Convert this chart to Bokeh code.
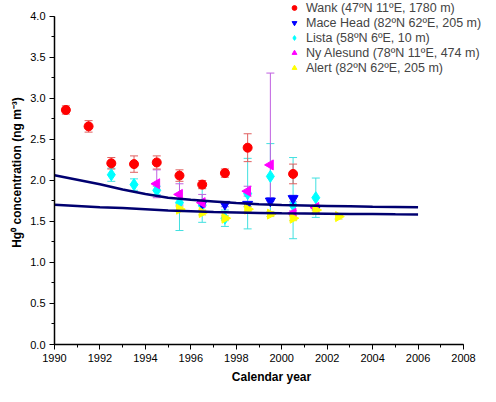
from bokeh.plotting import figure
from bokeh.models import (ColumnDataSource, Whisker, TeeHead, Legend, LegendItem,
                          SingleIntervalTicker, NumeralTickFormatter, Range1d)
from bokeh.embed import file_html
from bokeh.resources import INLINE

# ---------------- data ----------------
wank_year = [1990.5, 1991.5, 1992.5, 1993.5, 1994.5, 1995.5, 1996.5, 1997.5, 1998.5, 2000.5]
wank_val = [2.86, 2.66, 2.21, 2.20, 2.22, 2.06, 1.95, 2.09, 2.40, 2.08]
wank_elo = [0.05, 0.07, 0.07, 0.10, 0.08, 0.07, 0.05, 0.05, 0.17, 0.12]
wank_ehi = [0.05, 0.07, 0.07, 0.10, 0.08, 0.07, 0.05, 0.05, 0.17, 0.12]

mace_year = [1996.5, 1997.5, 1998.5, 1999.5, 2000.5, 2001.5]
mace_val = [1.72, 1.71, 1.71, 1.75, 1.78, 1.66]
mace_elo = [0.03, 0.03, 0.03, 0.04, 0.04, 0.02]
mace_ehi = [0.03, 0.03, 0.03, 0.04, 0.04, 0.02]

lista_year = [1992.5, 1993.5, 1994.5, 1995.5, 1996.5, 1997.5, 1998.5, 1999.5, 2000.5, 2001.5]
lista_val = [2.07, 1.95, 1.88, 1.73, 1.70, 1.54, 1.84, 2.05, 1.70, 1.79]
lista_elo = [0.08, 0.07, 0.05, 0.34, 0.21, 0.10, 0.43, 0.45, 0.41, 0.24]
lista_ehi = [0.08, 0.07, 0.05, 0.34, 0.21, 0.10, 0.43, 0.40, 0.58, 0.24]

ny_year = [1994.5, 1995.5, 1996.5, 1998.5, 1999.5, 2000.5, 2001.5]
ny_val = [1.96, 1.83, 1.73, 1.87, 2.19, 1.60, 1.67]
ny_elo = [0.17, 0.13, 0.10, 0.06, 0.44, 0.03, 0.03]
ny_ehi = [0.17, 0.13, 0.10, 0.06, 1.12, 0.03, 0.03]

alert_year = [1995.5, 1996.5, 1997.5, 1998.5, 1999.5, 2000.5, 2001.5, 2002.5]
alert_val = [1.65, 1.61, 1.54, 1.65, 1.59, 1.54, 1.64, 1.56]
alert_elo = [0.03, 0.03, 0.03, 0.03, 0.03, 0.03, 0.03, 0.03]
alert_ehi = [0.03, 0.03, 0.03, 0.03, 0.03, 0.03, 0.03, 0.03]

model_year = [1990, 1991, 1992, 1993, 1994, 1995, 1996, 1997, 1998, 1999, 2000,
              2001, 2002, 2003, 2004, 2005, 2006]
model_upper = [2.065, 2.01, 1.955, 1.89, 1.835, 1.79, 1.765, 1.745, 1.725, 1.71, 1.70,
               1.695, 1.69, 1.685, 1.68, 1.678, 1.675]
model_lower = [1.705, 1.69, 1.675, 1.665, 1.65, 1.635, 1.625, 1.615, 1.61, 1.605, 1.60,
               1.598, 1.595, 1.592, 1.59, 1.587, 1.585]

labels = ["Wank (47ºN 11ºE, 1780 m)", "Mace Head (82ºN 62ºE, 205 m)",
          "Lista (58ºN 6ºE, 10 m)", "Ny Alesund (78ºN 11ºE, 474 m)",
          "Alert (82ºN 62ºE, 205 m)"]

FONT = "Liberation Sans"

# frame spans to the right and top edges; axes are bounded to the data box
p = figure(width=488, height=386, output_backend="svg", toolbar_location=None,
           x_range=Range1d(1990, 2009.10), y_range=Range1d(0, 4.195),
           min_border_left=54, min_border_right=0, min_border_top=0,
           min_border_bottom=42)
p.outline_line_color = None
p.xgrid.visible = False
p.ygrid.visible = False
p.background_fill_color = "white"

series = [
    (wank_year, wank_val, wank_elo, wank_ehi, "circle", "#ff0000", "#e06060", 9),
    (mace_year, mace_val, mace_elo, mace_ehi, "inverted_triangle", "#0000ff", "#7070e8", 10),
    (lista_year, lista_val, lista_elo, lista_ehi, "diamond", "#00ffff", "#40e0e0", 12),
    (ny_year, ny_val, ny_elo, ny_ehi, "triangle", "#ff00ff", "#c060e0", 10),
    (alert_year, alert_val, alert_elo, alert_ehi, "triangle", "#ffff00", "#e0e040", 10),
]
angles = [0, 0, 0, 1.5708, -1.5708]

draw_order = [2, 1, 3, 4, 0]
renderers = {}
for i in draw_order:
    yr, v, elo, ehi, mk, col, ecol, sz = series[i]
    src = ColumnDataSource(dict(x=yr, y=v,
                                lo=[a - b for a, b in zip(v, elo)],
                                hi=[a + b for a, b in zip(v, ehi)]))
    w = Whisker(source=src, base="x", lower="lo", upper="hi",
                line_color=ecol, line_width=1,
                upper_head=TeeHead(size=8, line_color=ecol, line_width=1),
                lower_head=TeeHead(size=8, line_color=ecol, line_width=1))
    p.add_layout(w)
    r = p.scatter("x", "y", source=src, marker=mk, size=sz, angle=angles[i],
                  fill_color=col, line_color=col)
    renderers[i] = r

p.line(model_year, model_upper, line_color="#000070", line_width=2.5)
p.line(model_year, model_lower, line_color="#000070", line_width=2.5)

# axes
p.xaxis.ticker = SingleIntervalTicker(interval=2, num_minor_ticks=2)
p.yaxis.ticker = SingleIntervalTicker(interval=0.5, num_minor_ticks=2)
p.yaxis.formatter = NumeralTickFormatter(format="0.0")
p.xaxis.bounds = (1990, 2008)
p.yaxis.bounds = (0, 4.0)
for ax in (p.xaxis[0], p.yaxis[0]):
    ax.axis_line_color = "black"
    ax.axis_line_width = 1.5
    ax.major_tick_line_color = "black"
    ax.minor_tick_line_color = "black"
    ax.major_tick_in = 0
    ax.major_tick_out = 5
    ax.minor_tick_in = 0
    ax.minor_tick_out = 3
    ax.major_label_text_font = FONT
    ax.major_label_text_font_size = "11px"
    ax.major_label_text_color = "black"
    ax.axis_label_text_font = FONT
    ax.axis_label_text_font_size = "12px"
    ax.axis_label_text_font_style = "bold"
    ax.axis_label_text_color = "black"
    ax.major_label_standoff = 4
p.xaxis.axis_label = "Calendar year"
p.yaxis.axis_label = "Hg⁰ concentration (ng m⁻³)"
p.xaxis.axis_label_standoff = 5
p.yaxis.axis_label_standoff = 3

items = [LegendItem(label=labels[i], renderers=[renderers[i]]) for i in range(5)]
legend = Legend(items=items, location=(234, 269), orientation="vertical",
                border_line_color=None, background_fill_alpha=0,
                label_text_font=FONT, label_text_font_size="12.5px",
                label_height=15, glyph_height=15, glyph_width=12,
                label_standoff=6, spacing=0, padding=0, margin=0)
p.add_layout(legend, "center")

open("out.html", "w").write(file_html(p, INLINE))
